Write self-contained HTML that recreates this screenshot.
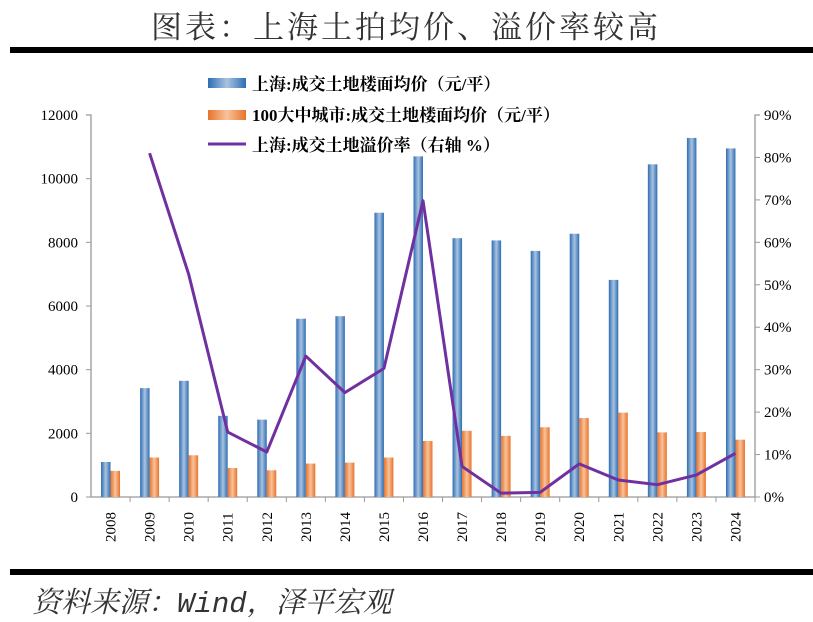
<!DOCTYPE html>
<html><head><meta charset="utf-8"><style>
body{margin:0;background:#fff;width:813px;height:617px;overflow:hidden}
text{font-family:"Liberation Serif","Noto Serif CJK SC",serif}
</style></head><body>
<svg width="813" height="617" xmlns="http://www.w3.org/2000/svg">
<defs>
<linearGradient id="gb" x1="0" x2="1"><stop offset="0" stop-color="#2e6db4"/><stop offset="0.5" stop-color="#a9c3df"/><stop offset="1" stop-color="#2e6db4"/></linearGradient>
<linearGradient id="go" x1="0" x2="1"><stop offset="0" stop-color="#e8732a"/><stop offset="0.5" stop-color="#f8c39c"/><stop offset="1" stop-color="#e8732a"/></linearGradient>
</defs>
<text x="406" y="38" text-anchor="middle" font-size="31" fill="#333" style="font-family:'Noto Serif CJK SC',serif;letter-spacing:3px">图表：上海土拍均价、溢价率较高</text>
<rect x="10" y="47" width="803" height="6" fill="#000"/>
<rect x="10" y="569" width="803" height="6" fill="#000"/>
<text x="32" y="612" font-size="29" fill="#333" font-style="italic" style="font-family:'Noto Serif CJK SC',serif">资料来源：<tspan style="font-family:'Liberation Mono',monospace">Wind</tspan>，泽平宏观</text>
<g stroke="#999" stroke-width="1.3" fill="none">
<path d="M86 115H91V497H755V115H760"/>
</g>
<g id="content"></g>
<g font-weight="bold" font-size="17" fill="#000">
<rect x="208" y="78" width="38" height="10" fill="url(#gb)"/><text x="252" y="90">上海:成交土地楼面均价（元/平）</text>
<rect x="208" y="110" width="38" height="10" fill="url(#go)"/><text x="252" y="121">100大中城市:成交土地楼面均价（元/平）</text>
<line x1="208" y1="144" x2="246" y2="144" stroke="#7030a0" stroke-width="3"/><text x="252" y="151">上海:成交土地溢价率（右轴 %）</text>
</g>
</svg>
<script>
const B=[1100,3420,3650,2550,2430,5600,5680,8930,10700,8130,8060,7730,8270,6820,10450,11280,10950];
const O=[820,1240,1310,910,840,1050,1080,1240,1760,2080,1920,2190,2480,2650,2030,2040,1800];
const L=[null,81,52.5,15.3,10.6,33.2,24.6,30.3,69.8,7.2,0.9,1.1,7.8,4.0,2.9,5.2,10.3];
let s='';const w=(755-91)/17;const y=v=>497-v*382/12000;const yr=p=>497-p*382/90;
for(let i=0;i<=6;i++){const yy=497-i*382/6;s+=`<line x1="86" x2="91" y1="${yy}" y2="${yy}" stroke="#999"/><text x="78" y="${yy+5}" text-anchor="end" font-size="15" fill="#000">${i*2000}</text>`;}
for(let i=0;i<=9;i++){const yy=497-i*382/9;s+=`<line x1="755" x2="760" y1="${yy}" y2="${yy}" stroke="#999"/><text x="764" y="${yy+5}" font-size="15" fill="#000">${i*10}%</text>`;}
let pts=[];
for(let i=0;i<17;i++){const c=91+w*(i+0.5);
s+=`<line x1="${91+w*(i+1)}" x2="${91+w*(i+1)}" y1="497" y2="502" stroke="#999"/>`;
s+=`<rect x="${c-9.5}" y="${y(B[i])}" width="9.5" height="${497-y(B[i])}" fill="url(#gb)"/>`;
s+=`<rect x="${c}" y="${y(O[i])}" width="9.5" height="${497-y(O[i])}" fill="url(#go)"/>`;
s+=`<text transform="translate(${c+5},542) rotate(-90)" font-size="15" fill="#000">${2008+i}</text>`;
if(L[i]!=null)pts.push(c+','+yr(L[i]));}
s+=`<polyline points="${pts.join(' ')}" fill="none" stroke="#7030a0" stroke-width="3" stroke-linejoin="round"/>`;
document.getElementById('content').innerHTML=s;
</script>
</body></html>
